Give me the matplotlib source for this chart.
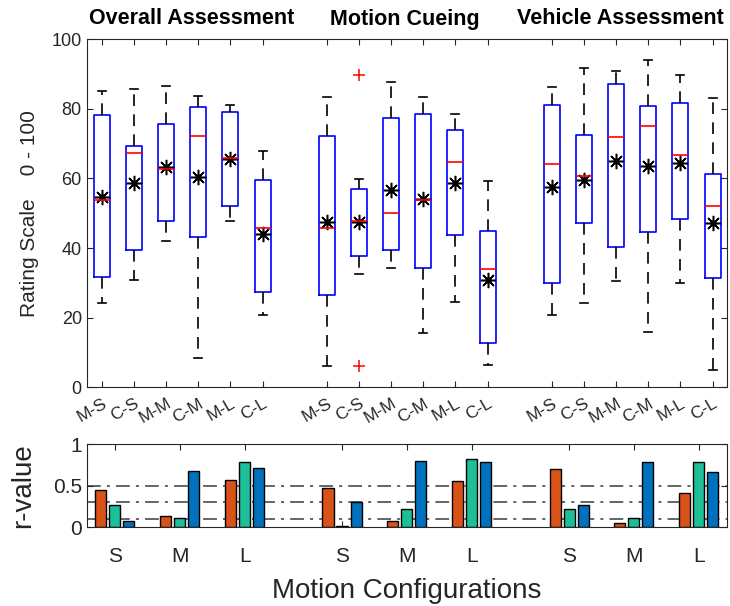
import numpy as np
import matplotlib
matplotlib.use("Agg")
import matplotlib.pyplot as plt

plt.rcParams["font.family"] = ["Liberation Sans", "DejaVu Sans"]

# box plot stats per configuration
labels = ["M-S", "C-S", "M-M", "C-M", "M-L", "C-L"] * 3
positions = [1, 2, 3, 4, 5, 6, 8, 9, 10, 11, 12, 13, 15, 16, 17, 18, 19, 20]
whislo = [24.2, 30.9, 41.9, 8.4, 47.9, 20.8,
          6.3, 32.6, 34.4, 15.6, 24.6, 6.4,
          20.7, 24.2, 30.6, 16.0, 30.1, 5.0]
q1 = [31.7, 39.4, 47.9, 43.3, 52.0, 27.5,
      26.6, 37.8, 39.5, 34.3, 43.7, 12.7,
      30.1, 47.2, 40.3, 44.6, 48.3, 31.4]
med = [53.9, 67.2, 62.6, 72.3, 65.9, 45.9,
       45.9, 47.8, 50.2, 53.9, 64.6, 34.0,
       64.2, 60.8, 71.9, 74.9, 66.7, 52.2]
q3 = [78.2, 69.4, 75.7, 80.4, 79.1, 59.5,
      72.3, 57.0, 77.4, 78.6, 74.0, 45.0,
      81.2, 72.6, 87.1, 80.7, 81.6, 61.3]
whishi = [85.0, 85.7, 86.6, 83.6, 81.2, 68.0,
          83.4, 59.8, 87.6, 83.3, 78.5, 59.3,
          86.3, 91.8, 90.7, 93.9, 89.6, 83.2]
means = [54.8, 58.7, 63.2, 60.3, 65.6, 44.1,
         47.5, 47.5, 56.8, 54.1, 58.7, 30.9,
         57.4, 59.5, 65.0, 63.7, 64.3, 47.2]
fliers = [[], [], [], [], [], [],
          [], [89.7, 6.3], [], [], [], [],
          [], [], [], [], [], []]

group_titles = ["Overall Assessment", "Motion Cueing", "Vehicle Assessment"]

# r-values per motion configuration (orange, teal, blue)
bar_groups = ["S", "M", "L"] * 3
bar_pos = [1, 2, 3, 4.5, 5.5, 6.5, 8, 9, 10]
r_orange = [0.45, 0.14, 0.57, 0.47, 0.08, 0.55, 0.70, 0.05, 0.41]
r_teal = [0.27, 0.11, 0.78, 0.02, 0.22, 0.82, 0.22, 0.11, 0.78]
r_blue = [0.08, 0.68, 0.71, 0.30, 0.80, 0.78, 0.27, 0.78, 0.66]
ref_lines = [0.5, 0.3, 0.1]

gray = "#262626"

fig = plt.figure(figsize=(7.3, 6.06), dpi=100)
ax = fig.add_axes([0.1188, 0.3606, 0.8767, 0.575])
ax2 = fig.add_axes([0.1188, 0.1299, 0.8767, 0.1374])

stats = []
for i in range(len(positions)):
    stats.append(dict(med=med[i], q1=q1[i], q3=q3[i], whislo=whislo[i],
                      whishi=whishi[i], fliers=fliers[i], mean=means[i]))

ax.bxp(stats, positions=positions, widths=0.5, capwidths=0.25,
       showmeans=False, showfliers=True,
       boxprops=dict(color="#0000ff", linewidth=1.2),
       medianprops=dict(color="#ff0000", linewidth=1.2),
       whiskerprops=dict(color="black", linestyle=(0, (7, 5)), linewidth=1.2),
       capprops=dict(color="black", linewidth=1.2),
       flierprops=dict(marker="+", markeredgecolor="#ff0000", markersize=9,
                       markeredgewidth=1.1, linestyle="none"))
ax.plot(positions, means, linestyle="none", marker=(8, 2, 0), color="black",
        markersize=11, markeredgewidth=1.1)
ax.plot(positions, means, linestyle="none", marker="o", color="black",
        markersize=3.5)

ax.set_xlim(0.53, 20.44)
ax.set_ylim(0, 100)
ax.set_yticks([0, 20, 40, 60, 80, 100])
ax.set_xticks(positions)
ax.set_xticklabels(labels, rotation=30, ha="right", rotation_mode="anchor",
                   fontsize=12.5, color=gray)
ax.tick_params(axis="both", direction="in", top=True, right=True,
               colors=gray, labelsize=13, length=4)
ax.tick_params(axis="x", labelsize=12.5, pad=6)
ax.set_ylabel("Rating Scale    0 - 100", fontsize=15, color=gray, labelpad=9)
for s in ax.spines.values():
    s.set_color(gray)

title_x = [192, 405, 620]
for t, px in zip(group_titles, title_x):
    fig.text(px / 730, 1 - 19 / 606, t, ha="center", va="center",
             fontsize=15.5, fontweight="bold", color="black")

# bottom panel
for y in ref_lines:
    ax2.axhline(y, color="#3a3a3a", linestyle=(0, (9, 4, 2, 4)),
                linewidth=1.1, zorder=1)
w = 0.17
bp = np.array(bar_pos)
ax2.bar(bp - 0.216, r_orange, width=w, color="#D95319", edgecolor="black",
        linewidth=1, zorder=2)
ax2.bar(bp, r_teal, width=w, color="#1DBF98", edgecolor="black",
        linewidth=1, zorder=2)
ax2.bar(bp + 0.216, r_blue, width=w, color="#0072BD", edgecolor="black",
        linewidth=1, zorder=2)
ax2.set_xlim(0.565, 10.43)
ax2.set_ylim(0, 1)
ax2.set_yticks([0, 0.5, 1])
ax2.set_yticklabels(["0", "0.5", "1"])
ax2.set_xticks(bar_pos)
ax2.set_xticklabels(bar_groups)
ax2.tick_params(axis="both", direction="in", top=True, right=True,
                colors=gray, labelsize=15, length=4)
ax2.tick_params(axis="x", pad=14)
ax2.set_ylabel("r-value", fontsize=20, color=gray, labelpad=12)
ax2.set_xlabel("Motion Configurations", fontsize=20, color=gray, labelpad=9)
for s in ax2.spines.values():
    s.set_color(gray)

fig.savefig("out.png", dpi=100)
